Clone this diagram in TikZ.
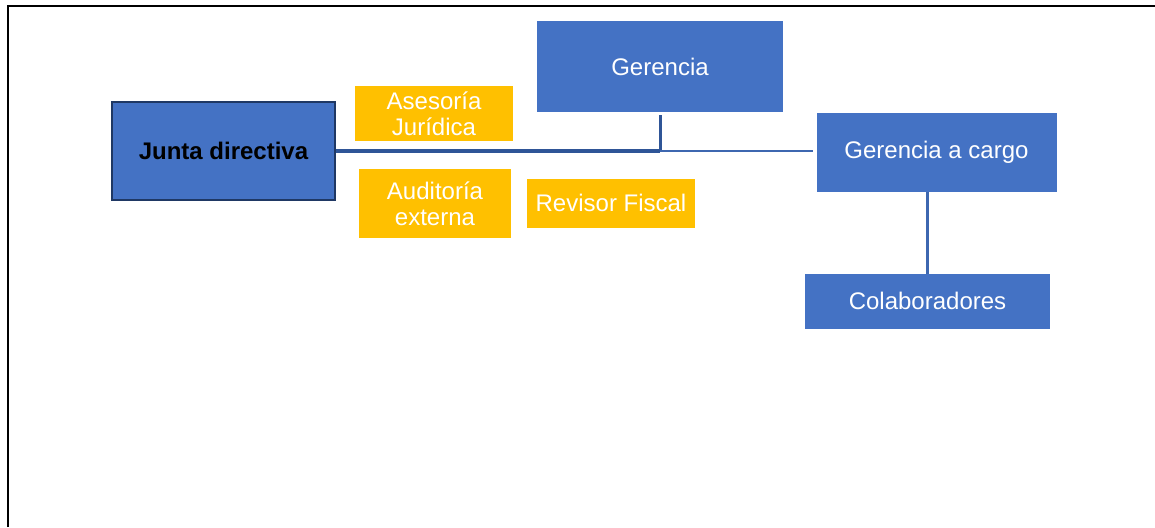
\documentclass[tikz,border=0pt]{standalone}
\usepackage{fontspec}
\setmainfont{Liberation Sans}
\definecolor{orgblue}{HTML}{4472C4}
\definecolor{orgnavy}{HTML}{1F3864}
\definecolor{orgline}{HTML}{2F5597}
\definecolor{orggold}{HTML}{FFC000}
\begin{document}
\begin{tikzpicture}[x=1pt,y=-1pt,
  unit/.style={fill=orgblue, text=white, inner sep=0pt, align=center,
    font={\fontsize{24}{26}\selectfont}},
  staff/.style={fill=orggold, text=white, inner sep=0pt, align=center,
    font={\fontsize{24}{26}\selectfont}},
  link/.style={orgblue!90!black, line width=2.5pt}]
\useasboundingbox (0,0) rectangle (1155,527);
\draw[line width=2pt] (8,527) -- (8,6.5) -- (1155,6.5);
\node[unit, draw=orgnavy, line width=2.5pt, text=black, minimum width=223pt, minimum height=98pt,
  font={\fontsize{24}{26}\selectfont\bfseries}] (junta) at (223.5,151) {Junta directiva};
\node[staff, minimum width=158pt, minimum height=55pt] (asesoria) at (434,113.5) {Asesoría\\Jurídica};
\node[staff, minimum width=152pt, minimum height=69pt] (auditoria) at (435,203.5) {Auditoría\\externa};
\node[staff, minimum width=168pt, minimum height=49pt] (revisor) at (611,203) {Revisor Fiscal};
\node[unit, minimum width=246pt, minimum height=91pt] (gerencia) at (660,66.5) {Gerencia};
\node[unit, minimum width=240pt, minimum height=79pt] (cargo) at (936.5,152.5) {Gerencia a cargo};
\node[unit, minimum width=245pt, minimum height=55pt] (colab) at (927.5,301.3) {Colaboradores};
% connectors
\coordinate (joint) at (gerencia.south |- junta.east);
\draw[orgline, line width=3.5pt] (junta.east) -- (joint);
\draw[orgline, line width=3pt] ([yshift=-3pt]gerencia.south) -- (joint);
\draw[link] (joint) -- ([xshift=-3pt]cargo.west |- joint);
\draw[link] (colab.north) -- (colab.north |- cargo.south);
\end{tikzpicture}
\end{document}
